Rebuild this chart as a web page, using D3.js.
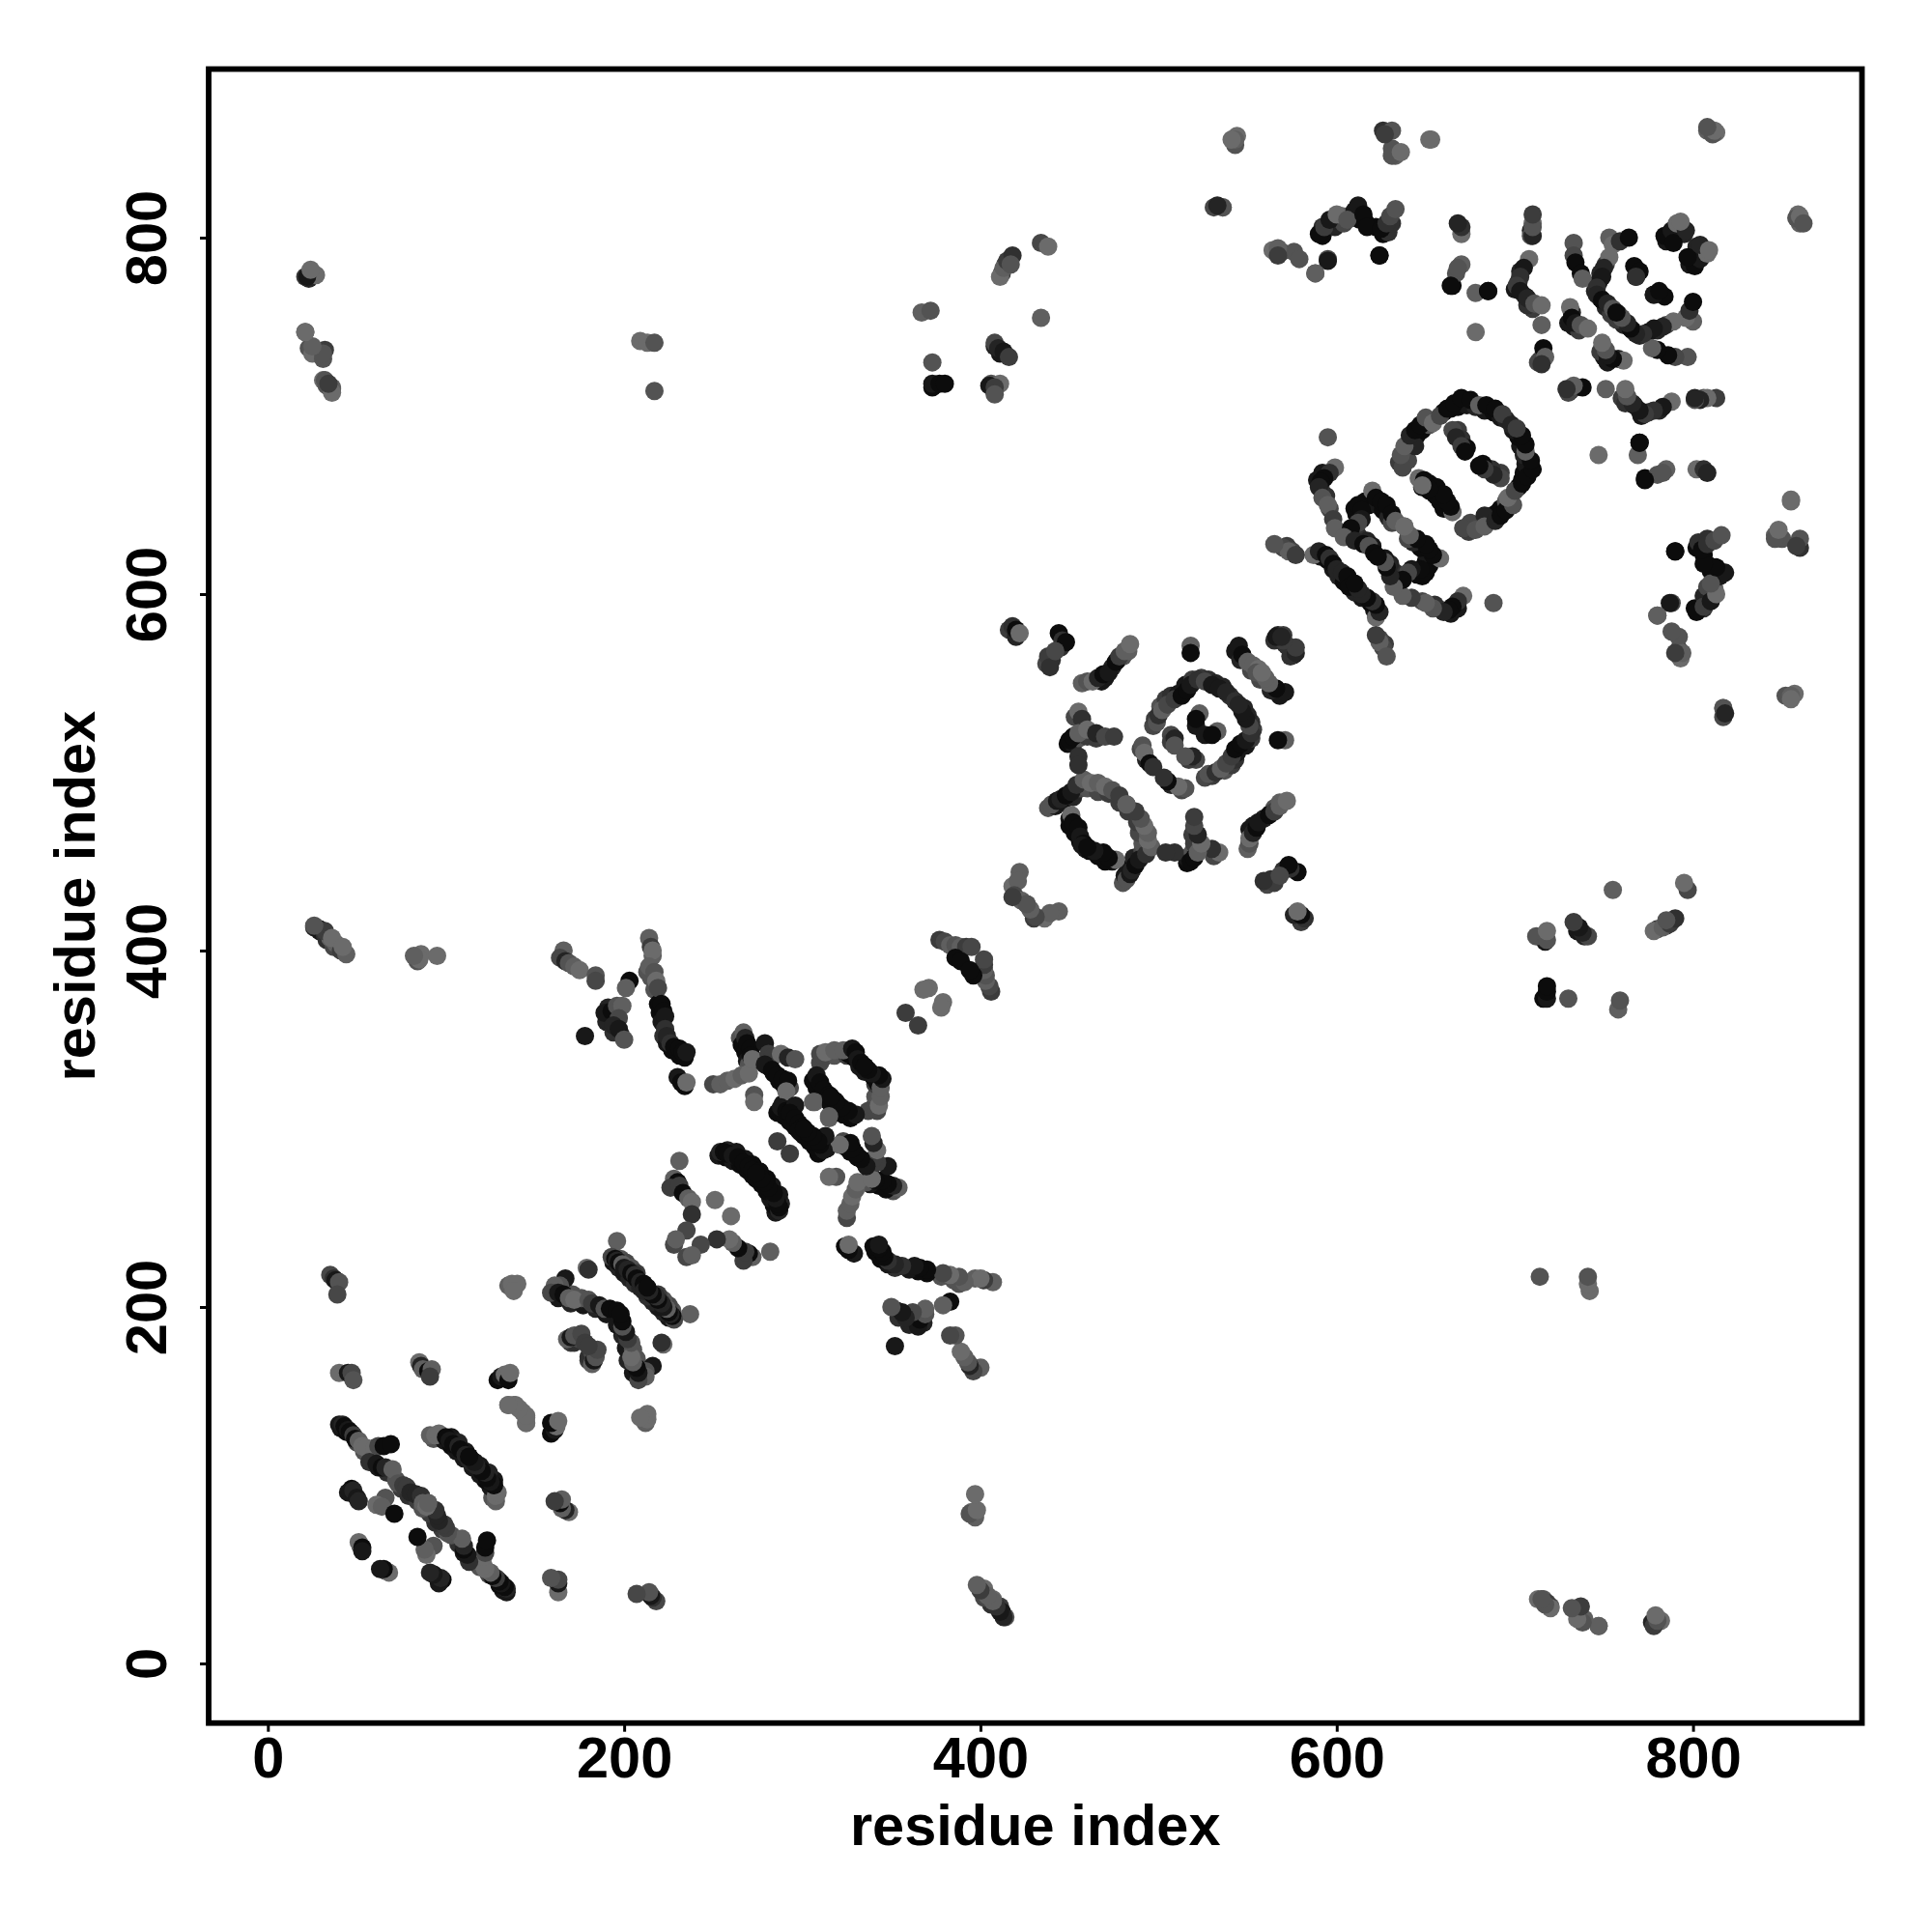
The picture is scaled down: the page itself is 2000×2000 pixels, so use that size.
<!DOCTYPE html>
<html><head><meta charset="utf-8"><script src="https://cdn.jsdelivr.net/npm/d3@7"></script>
<style>html,body{margin:0;background:#fff}svg{display:block}text{font-family:"Liberation Sans",Arial,sans-serif;font-weight:700;fill:#000}</style>
</head><body><svg id="c" width="2000" height="2000"></svg>
<script>
// Contact pairs: [residue i, residue j, strength 1-9]. The map is symmetric, so each pair is drawn at (i,j) and (j,i).
const secondRowLow=[[41,132,8],[44,130,9],[47,129,7],[50,124,4],[54,119,3],[58,113,8],[62,110,8],[67,107,6],[72,103,3],[75,98,5],[79,94,6],[84,91,5],[87,87,3],[90,87,2],[93,126,3],[99,125,8],[103,122,9],[106,119,8],[110,115,8],[113,114,7],[103,127,8],[107,124,7],[111,119,8],[194,225,8],[197,222,7],[200,219,8],[203,216,7],[206,213,6],[209,211,7],[198,227,3],[201,225,4],[204,222,3],[207,219,5],[163,205,8],[170,202,7],[177,201,8],[184,199,7],[190,196,8],[170,180,5],[172,180,6],[175,182,4],[171,207,3],[176,205,3]];
const secondRowMid=[[253,285,8],[257,284,9],[261,282,8],[265,280,9],[269,277,9],[272,274,9],[258,288,7],[263,287,8],[268,283,8],[272,280,9],[276,276,9],[306,327,9],[308,323,9],[311,319,9],[314,316,9],[312,340,3],[318,341,3],[325,341,5],[329,340,9],[332,335,8],[310,337,4],[326,342,9],[286,309,9],[290,307,9],[293,304,9],[296,301,9],[299,298,9],[289,314,8],[293,312,9],[265,351,3],[266,347,9],[268,343,9],[269,338,8],[270,336,3],[277,338,8],[281,335,9],[284,331,9],[287,327,9],[290,324,9],[293,323,4],[216,397,2],[213,388,3],[215,385,3],[217,378,3],[219,370,9],[220,365,9],[221,360,8],[222,352,6],[224,348,8],[227,344,9],[231,341,9],[234,340,9],[193,362,8],[190,360,7],[194,354,6],[198,353,6]];
const secondRowHigh=[[592,801,9],[592,806,6],[597,807,6],[603,812,2],[599,806,7],[604,808,4],[610,815,8],[613,810,9],[616,809,9],[622,806,9],[626,802,9],[629,803,6],[631,808,6],[592,668,8],[589,664,8],[591,659,5],[594,655,6],[596,648,4],[610,648,9],[611,645,9],[616,652,9],[618,650,9],[623,650,8],[626,647,9],[629,643,7],[631,640,4],[591,621,8],[595,619,9],[598,614,8],[601,610,7],[604,607,9],[612,633,6],[617,630,7],[620,627,8],[639,681,4],[642,686,9],[645,689,9],[648,692,9],[635,674,5],[640,675,4],[644,683,7],[652,695,3],[660,702,9],[664,704,9],[668,705,9],[673,706,8],[678,705,7],[683,703,8],[688,702,9],[692,699,8],[695,698,7],[668,692,5],[670,687,6],[673,682,9],[648,660,9],[652,658,9],[655,656,9],[438,480,3],[442,481,8],[446,483,8],[449,486,9],[452,486,7],[456,491,4],[460,491,3],[466,489,4],[472,488,5],[478,483,5],[450,474,8],[450,470,9],[453,466,9],[456,461,9],[459,457,8],[497,526,4],[498,530,5],[501,537,3],[504,541,5],[507,543,6],[511,544,8],[515,549,8],[519,552,5],[524,553,5],[528,552,6],[532,550,7],[536,548,7],[540,543,6],[521,526,8],[507,521,4],[507,517,5],[493,507,7],[490,513,4],[449,516,9],[452,516,8],[455,519,3],[453,531,4],[460,520,5],[465,519,5],[468,551,8],[470,553,8],[474,559,7],[477,563,5],[480,565,3],[483,568,2],[445,570,6],[437,561,4],[440,563,6],[416,580,5],[420,576,7],[543,568,8],[546,563,7],[552,557,4],[556,555,3],[565,574,6],[571,572,6],[702,775,6],[700,771,8],[706,767,8],[710,760,5],[707,762,6],[703,781,7],[745,770,7],[748,766,8],[751,761,7],[754,757,5],[748,780,7],[751,785,5],[747,775,8],[732,758,7],[733,750,8],[736,748,5],[730,752,8],[714,731,7],[716,734,6],[785,798,8],[788,800,8],[795,802,7],[412,780,5],[414,785,6],[23,777,7],[29,412,8],[33,406,6],[37,402,4],[408,739,7],[411,735,8],[373,716,9],[717,405,8],[713,730,4],[572,627,5],[575,624,4],[716,36,2],[720,32,3],[716,408,5]];
const nTerminalHelices=[[35,218,4],[37,216,6],[38,215,8],[40,214,3],[39,207,4],[40,163,1],[45,163,8],[47,163,4],[48,159,3],[85,169,1],[86,167,7],[87,165,2],[90,164,9],[92,165,2],[91,161,5],[129,159,9],[131,161,8],[133,162,1],[135,159,9],[136,163,1],[135,212,2],[137,213,1],[140,213,1],[138,209,1],[135,145,1],[139,145,1],[143,141,1],[145,138,1],[145,135,1]];
const helixBundle1=[[40,134,8],[42,134,7],[43,133,9],[45,131,8],[46,130,9],[48,128,5],[49,126,9],[51,125,2],[53,122,1],[55,121,1],[60,121,1],[62,122,4],[65,122,9],[69,123,9],[57,113,6],[61,112,8],[64,110,9],[66,110,7],[70,109,2],[73,101,3],[76,100,5],[78,99,5],[80,96,7],[83,95,7],[86,94,6],[88,89,1],[90,90,2],[91,128,2],[94,128,1],[96,129,1],[100,127,9],[102,125,8],[104,123,9],[107,122,7],[108,120,9],[111,117,7],[113,116,8],[116,113,9],[47,98,9],[45,96,8],[48,97,7],[50,93,8],[51,91,7],[66,93,3],[61,89,1],[64,88,2],[71,84,9],[52,66,5],[51,68,1],[53,65,9],[53,63,8]];
const helixBundle2=[[166,400,2],[164,396,4],[167,394,7],[169,393,3],[172,391,2],[175,389,1],[184,386,3],[184,383,4],[203,383,9],[201,379,2],[191,368,7],[189,365,8],[193,366,9],[196,369,3],[199,369,2],[197,362,4],[194,358,7],[197,356,8],[200,350,3],[178,352,8],[214,407,2],[215,402,5],[216,400,1],[214,391,2],[217,388,3],[218,383,1],[219,379,4],[221,370,9],[222,366,9],[223,363,8],[223,356,6],[224,352,7],[226,348,6],[228,346,9],[231,345,9],[233,343,9],[235,343,8],[230,329,8],[232,326,9],[234,324,9],[235,326,1],[250,325,4],[254,325,2],[258,327,2],[262,328,1],[266,330,2],[270,331,1],[267,354,2],[268,351,7],[269,348,9],[271,345,9],[271,341,9],[272,339,1],[279,348,8],[281,342,5],[283,340,5],[288,342,1],[292,340,7],[296,339,3],[279,336,8],[283,333,9],[286,330,9],[289,328,9],[292,327,9],[291,321,1],[273,319,3],[273,315,1],[310,342,4],[313,343,1],[318,344,2],[323,344,2],[328,345,8],[330,343,9],[331,339,8],[333,337,9],[335,335,9],[308,330,8],[310,326,9],[312,322,9],[315,319,9],[318,316,9],[307,315,2],[315,306,2],[286,293,5],[288,312,8],[291,310,9],[294,310,9],[296,313,8],[293,309,9],[296,306,9],[298,303,9],[300,301,9]];
const helixBundle3=[[231,282,2],[228,272,2],[230,270,9],[226,267,5],[231,268,5],[233,264,9],[236,261,2],[238,259,1],[238,252,6],[235,243,4],[228,235,4],[229,238,2],[251,260,1],[254,287,7],[256,287,9],[258,286,9],[261,285,8],[264,284,9],[267,281,9],[270,279,9],[272,277,9],[275,274,9],[196,237,2],[193,228,4],[195,227,9],[196,226,7],[197,225,9],[199,224,2],[200,222,8],[202,221,7],[204,219,9],[206,218,6],[207,216,9],[209,214,7],[211,213,9],[179,222,1],[180,221,6],[167,216,8],[164,212,3],[161,212,2],[159,208,4],[163,208,8],[166,207,9],[169,205,2],[172,204,1],[180,204,3],[182,202,5],[186,201,8],[189,199,3],[192,199,9],[196,198,9],[168,182,2],[170,183,8],[172,184,3],[176,185,4],[178,180,5]];
const midChains=[[377,406,5],[380,405,4],[383,403,2],[386,403,3],[389,402,2],[392,402,5],[395,402,4],[386,396,9],[389,394,9],[371,379,1],[358,365,5],[368,378,1],[418,582,6],[420,580,9],[422,578,1],[444,578,9],[446,574,6],[448,573,9],[438,565,5],[439,559,6],[442,568,4],[457,550,2],[460,551,3],[463,551,1],[466,553,7],[469,555,9],[472,556,8],[476,562,9],[478,565,5],[481,568,2],[484,572,1],[518,571,2],[518,567,9],[545,571,8],[547,566,9],[550,562,2],[553,560,2],[556,558,1],[567,577,7],[570,577,5],[574,570,5],[576,566,8],[499,528,3],[500,532,6],[502,535,2],[505,538,4],[509,541,5],[513,543,9],[516,546,9],[518,549,8],[522,552,6],[526,551,4],[530,549,8],[534,547,8],[538,545,7],[523,533,2],[521,530,9],[509,519,7],[509,515,3],[491,515,3],[492,511,1],[495,505,9],[497,503,6],[440,482,3],[443,484,8],[445,485,7],[448,487,9],[451,489,8],[454,493,6],[458,496,2],[462,494,1],[466,494,2],[470,492,1],[474,490,3],[478,487,5],[482,482,2],[451,476,1],[452,472,9],[455,469,9],[456,464,8],[458,460,9],[455,534,1],[457,530,6],[450,518,9],[452,520,9],[455,522,2],[460,524,1],[465,522,7],[470,520,4],[475,520,5],[455,509,6],[455,504,6],[422,444,2],[418,436,1],[421,439,2],[419,431,4],[423,428,2],[426,426,3],[430,418,5]];
const c2Rings=[[595,688,3],[599,671,1],[596,668,6],[593,665,9],[591,663,9],[590,660,7],[592,654,3],[595,650,2],[598,642,5],[599,637,2],[612,650,9],[614,647,9],[614,642,8],[612,640,4],[608,637,9],[620,658,1],[622,654,9],[625,652,9],[628,650,9],[631,645,9],[633,641,2],[638,638,1],[604,632,2],[610,630,7],[615,628,9],[618,627,3],[621,623,9],[587,622,1],[590,624,7],[594,622,9],[596,620,6],[598,617,9],[600,614,7],[603,612,7],[606,610,9],[637,671,4],[636,678,3],[638,683,2],[641,689,7],[644,692,9],[647,695,9],[650,699,3],[654,696,1],[658,700,4],[662,704,9],[666,707,9],[670,710,9],[675,709,9],[680,706,2],[684,706,9],[689,704,9],[693,701,5],[665,692,4],[667,688,7],[670,683,5],[672,680,9],[646,665,1],[649,664,9],[652,662,9],[656,660,9],[659,652,9],[661,648,1],[570,626,4],[573,624,2],[577,622,5],[565,628,3],[576,569,7]];
const c3Helices=[[710,808,1],[709,804,7],[709,801,3],[708,788,1],[705,783,8],[703,778,6],[701,773,5],[703,770,8],[707,766,7],[711,763,3],[715,762,1],[715,751,2],[716,738,9],[717,733,2],[715,729,6],[733,797,3],[733,790,4],[734,786,9],[737,780,9],[738,777,2],[753,800,2],[755,796,1],[759,798,6],[764,800,9],[753,789,1],[750,783,7],[749,778,8],[746,772,6],[746,768,7],[749,765,9],[752,763,7],[755,760,3],[758,757,9],[731,761,1],[732,755,9],[734,752,8],[737,751,3],[741,749,1],[784,801,9],[788,804,8],[791,808,1],[789,797,9],[796,804,7],[793,809,1],[767,784,9],[768,778,8],[770,781,9],[778,768,6]];
const farContacts=[[21,778,5],[24,780,3],[27,779,1],[21,747,2],[23,738,3],[25,735,1],[32,737,5],[31,732,3],[31,720,1],[33,717,3],[36,715,3],[26,413,7],[29,411,8],[32,409,6],[35,407,2],[38,404,2],[41,400,5],[44,398,2],[84,394,3],[86,398,1],[95,397,1],[209,742,1],[213,741,1],[217,741,3],[217,714,3],[367,758,2],[372,759,3],[373,730,3],[373,718,8],[377,718,9],[380,718,9],[406,718,3],[411,718,1],[408,741,4],[410,738,7],[413,736,8],[416,733,5],[411,778,1],[413,783,2],[415,787,5],[418,790,6],[417,785,3],[434,755,2],[434,797,4],[438,795,1],[712,408,3],[543,852,3],[544,857,1],[531,817,4],[536,817,1],[564,793,1],[569,792,4],[576,792,3],[579,788,3],[588,780,2],[595,788,4],[590,802,9],[593,806,5],[596,810,8],[600,813,1],[606,810,3],[612,818,8],[615,813,9],[617,806,9],[624,790,9],[625,805,9],[628,808,6],[630,812,4],[633,816,3],[626,860,6],[631,860,3],[631,850,3],[633,846,2],[652,855,1],[665,773,9],[667,780,3],[670,785,2],[670,802,1],[670,806,6],[678,769,2],[685,770,9],[678,747,1],[808,860,2],[813,859,1],[811,858,3],[595,787,8],[567,794,2],[567,790,5],[588,780,2],[624,790,9],[668,808,7],[664,773,9],[668,783,3],[685,770,9],[710,801,7],[806,710,3],[813,710,5],[395,85,1],[411,32,5],[407,36,1],[414,26,3],[402,42,1],[397,82,2],[713,36,1],[718,34,5],[735,31,3],[739,25,2],[747,21,1],[778,22,8],[782,24,1],[631,846,3],[636,848,1],[653,855,1],[627,858,5],[543,855,2],[541,855,1],[536,817,3],[533,818,7],[812,860,1],[808,862,3]];
const xTickValues=[0,200,400,600,800], yTickValues=[0,200,400,600,800];
const xTitle="residue index", yTitle="residue index";

const contacts=[secondRowLow,secondRowMid,secondRowHigh,nTerminalHelices,helixBundle1,helixBundle2,helixBundle3,midChains,c2Rings,c3Helices,farContacts].flat();
const points=contacts.map(c=>({x:c[0],y:c[1],s:c[2]})).concat(contacts.map(c=>({x:c[1],y:c[0],s:c[2]})));

const x=d3.scaleLinear([0,800],[277.3,1752.6]);
const y=d3.scaleLinear([0,800],[1722,246]);
const shade=d3.scaleLinear([1,9],["#6b6b6b","#0c0c0c"]);
const box={l:216,t:71.5,r:1927.5,b:1783.7};
const svg=d3.select("#c");

svg.append("g").selectAll("circle").data(points).join("circle")
  .attr("cx",d=>x(d.x)).attr("cy",d=>y(d.y)).attr("r",9.5).attr("fill",d=>shade(d.s));

svg.append("rect").attr("x",box.l).attr("y",box.t).attr("width",box.r-box.l).attr("height",box.b-box.t)
  .attr("fill","none").attr("stroke","#000").attr("stroke-width",5.8);

const gx=svg.append("g").attr("transform",`translate(0,${box.b})`)
  .call(d3.axisBottom(x).tickValues(xTickValues).tickSize(9).tickPadding(0).tickFormat(d3.format("d")));
gx.select(".domain").remove();
gx.selectAll("line").attr("stroke","#000").attr("stroke-width",3);
gx.selectAll("text").attr("y",56.5).attr("dy",0).attr("font-size",59.5).style("font-family",'"Liberation Sans"').style("font-weight",700);

const gy=svg.append("g").attr("transform",`translate(${box.l},0)`)
  .call(d3.axisLeft(y).tickValues(yTickValues).tickSize(9).tickFormat(d3.format("d")));
gy.select(".domain").remove();
gy.selectAll("line").attr("stroke","#000").attr("stroke-width",3);
gy.selectAll("text").attr("x",0).attr("y",0).attr("dy",0).attr("text-anchor","middle")
  .attr("transform",`translate(-44.5,0) rotate(-90)`).attr("font-size",59.5).style("font-family",'"Liberation Sans"').style("font-weight",700);

svg.append("text").attr("x",(box.l+box.r)/2).attr("y",1910).attr("text-anchor","middle").attr("font-size",59.5).text(xTitle);
svg.append("text").attr("transform",`translate(98,${(box.t+box.b)/2}) rotate(-90)`).attr("text-anchor","middle").attr("font-size",59.5).text(yTitle);
</script></body></html>
